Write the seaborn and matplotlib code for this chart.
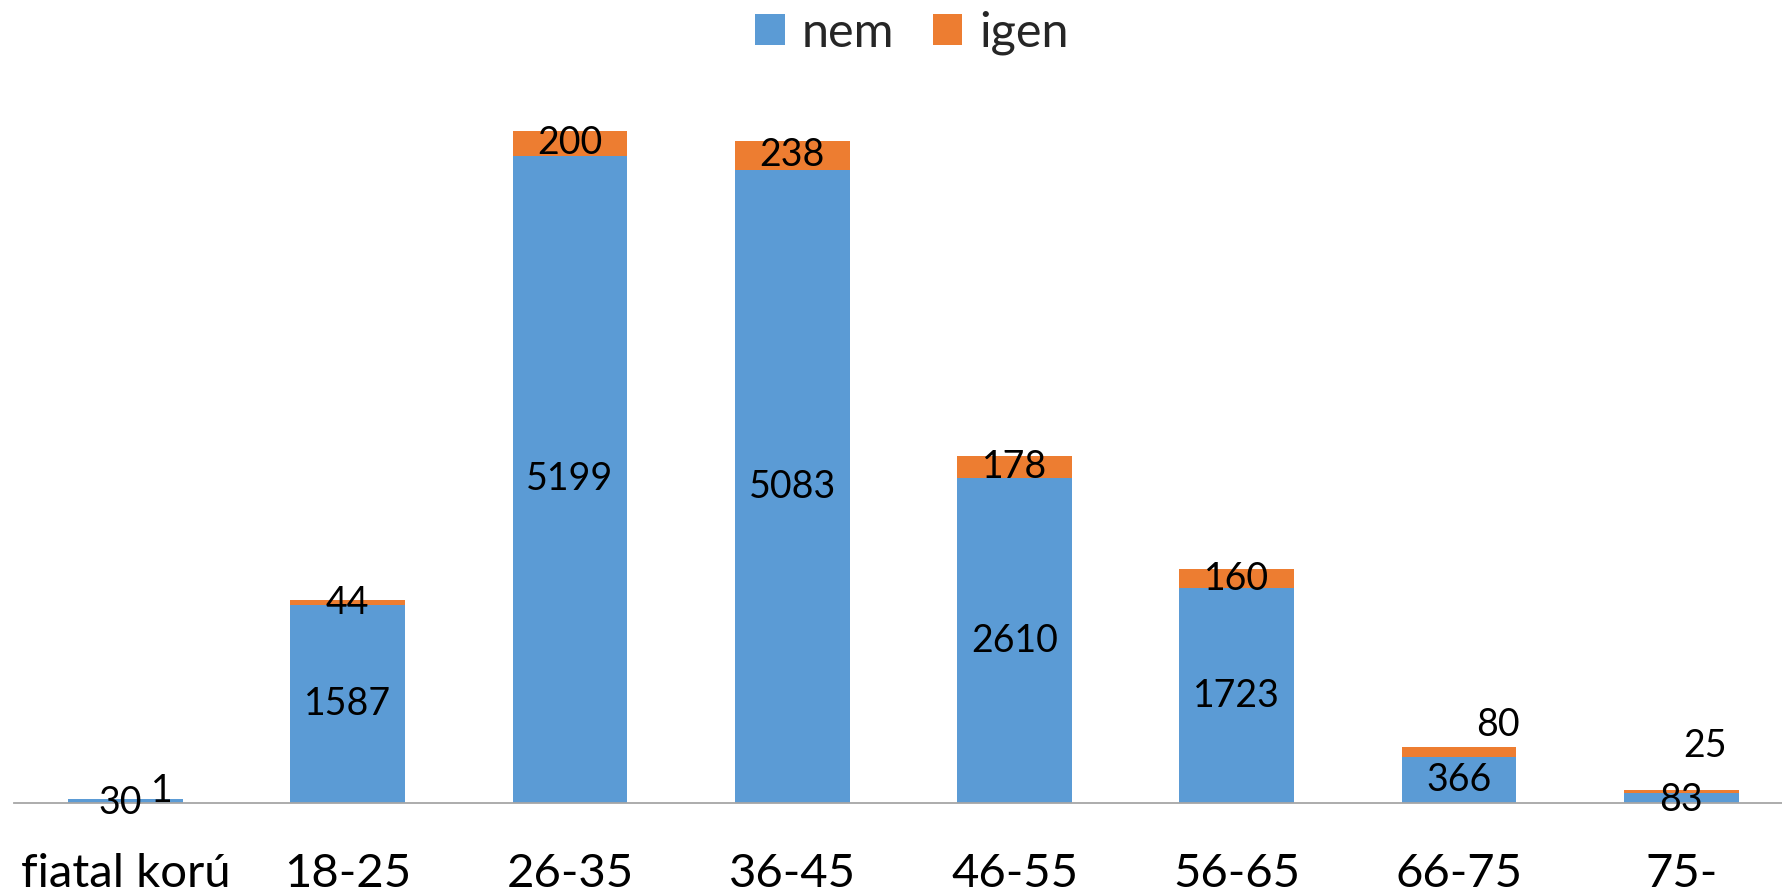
import matplotlib
matplotlib.use("Agg")
import matplotlib.pyplot as plt
import seaborn as sns
import pandas as pd
from matplotlib.patches import Patch

# ---- data ----
categories = ["fiatal korú", "18-25", "26-35", "36-45", "46-55", "56-65", "66-75", "75-"]
nem_values = [30, 1587, 5199, 5083, 2610, 1723, 366, 83]
igen_values = [1, 44, 200, 238, 178, 160, 80, 25]
series_names = ["nem", "igen"]

# label nudges (pixels) for small segments, like Excel's auto placement
igen_label_offsets = [(36, 8), (0, 0), (0, 0), (0, 0), (0, 0), (0, 0), (39, 27), (24, 45)]
nem_label_offsets = [(-5, -2), (0, 0), (0, 0), (0, 0), (0, 0), (0, 0), (0, 0), (0, -2)]

BLUE = "#5B9BD5"
ORANGE = "#ED7D31"

sns.set_theme(style="white")
plt.rcParams["font.family"] = ["Lato", "DejaVu Sans"]

df = pd.DataFrame({"cat": categories, "nem": nem_values, "igen": igen_values})
df["total"] = df["nem"] + df["igen"]

fig = plt.figure(figsize=(17.83, 8.92), dpi=100)
ax = fig.add_axes([14.4 / 1783, 1 - 803 / 892, 1778 / 1783, 747 / 892])

bw = 0.517
sns.barplot(data=df, x="cat", y="total", color=ORANGE, saturation=1, width=bw, ax=ax,
            linewidth=0, edgecolor="none")
sns.barplot(data=df, x="cat", y="nem", color=BLUE, saturation=1, width=bw, ax=ax,
            linewidth=0, edgecolor="none")

ax.set_ylim(0, 6000)
ax.set_xlim(-0.5, len(categories) - 0.5)
ax.set_xlabel("")
ax.set_ylabel("")
ax.set_yticks([])
for s in ["top", "left", "right"]:
    ax.spines[s].set_visible(False)
ax.spines["bottom"].set_color("#A6A6A6")
ax.spines["bottom"].set_linewidth(1.3)
ax.tick_params(axis="x", length=0, pad=36, labelsize=34, labelcolor="black")

# data labels
for i, (n, g) in enumerate(zip(nem_values, igen_values)):
    dx, dy = nem_label_offsets[i]
    ax.annotate(f"{n}", xy=(i, n / 2), xytext=(dx, dy), textcoords="offset pixels",
                ha="center", va="center", fontsize=27, color="black")
    dx, dy = igen_label_offsets[i]
    ax.annotate(f"{g}", xy=(i, n + g / 2), xytext=(dx, dy), textcoords="offset pixels",
                ha="center", va="center", fontsize=27, color="black")

handles = [Patch(facecolor=BLUE, edgecolor="none"), Patch(facecolor=ORANGE, edgecolor="none")]
fig.legend(handles, series_names, loc="center", bbox_to_anchor=(912 / 1783, 1 - 33 / 892),
           ncol=2, frameon=False, fontsize=35, handlelength=0.6, handleheight=0.6,
           handletextpad=0.35, columnspacing=0.8, borderpad=0)

fig.savefig("out.png", dpi=100)
